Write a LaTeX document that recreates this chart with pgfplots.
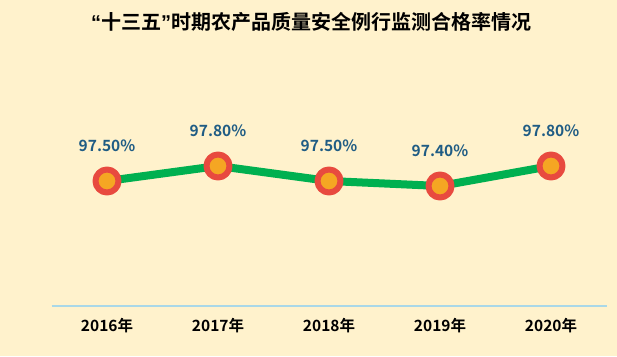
\documentclass[border=0pt]{standalone}
\usepackage{pgfplots}
\pgfplotsset{compat=1.18}
\usepackage{fontspec}
\setmainfont{Noto Sans CJK SC}[BoldFont={* Bold}]
\newfontfamily\cjkb{Noto Sans CJK SC Bold}
\newfontfamily\latb{Liberation Sans Bold}
\definecolor{bg}{HTML}{FFF2CC}
\definecolor{lgreen}{HTML}{00B050}
\definecolor{mred}{HTML}{E84A3F}
\definecolor{morange}{HTML}{F5A623}
\definecolor{lblue}{HTML}{1F5C84}
\definecolor{axline}{HTML}{A9D8E8}
\begin{document}
\begin{tikzpicture}[x=1pt,y=1pt]
\fill[bg] (0,0) rectangle (617,356);
\useasboundingbox (0,0) rectangle (617,356);
\node[font=\cjkb\fontsize{20}{23}\selectfont] at (311,334) {{\latb “}十三五{\latb ”}时期农产品质量安全例行监测合格率情况};
\begin{axis}[
  at={(51.5pt,50pt)}, anchor=south west,
  scale only axis, width=555pt, height=250pt,
  xmin=-0.5, xmax=4.5, ymin=95, ymax=100,
  axis y line=none,
  axis x line*=bottom,
  x axis line style={axline, line width=1.2pt, -},
  xtick={0,1,2,3,4},
  xticklabels={2016年,2017年,2018年,2019年,2020年},
  xticklabel style={font=\cjkb\fontsize{15.5}{18}\selectfont, yshift=-9pt},
  major tick length=0pt,
  clip=false,
  point meta=explicit symbolic,
  nodes near coords,
  every node near coord/.append style={font=\cjkb\fontsize{15.5}{18}\selectfont, text=lblue, anchor=south, yshift=23pt},
]
\addplot[lgreen, line width=8pt, line join=round, mark=*, mark size=11.5pt,
  mark options={draw=mred, fill=morange, line width=6pt}]
  coordinates {(0,97.5)[97.50\%] (1,97.8)[97.80\%] (2,97.5)[97.50\%] (3,97.4)[97.40\%] (4,97.8)[97.80\%]};
\end{axis}
\end{tikzpicture}
\end{document}
